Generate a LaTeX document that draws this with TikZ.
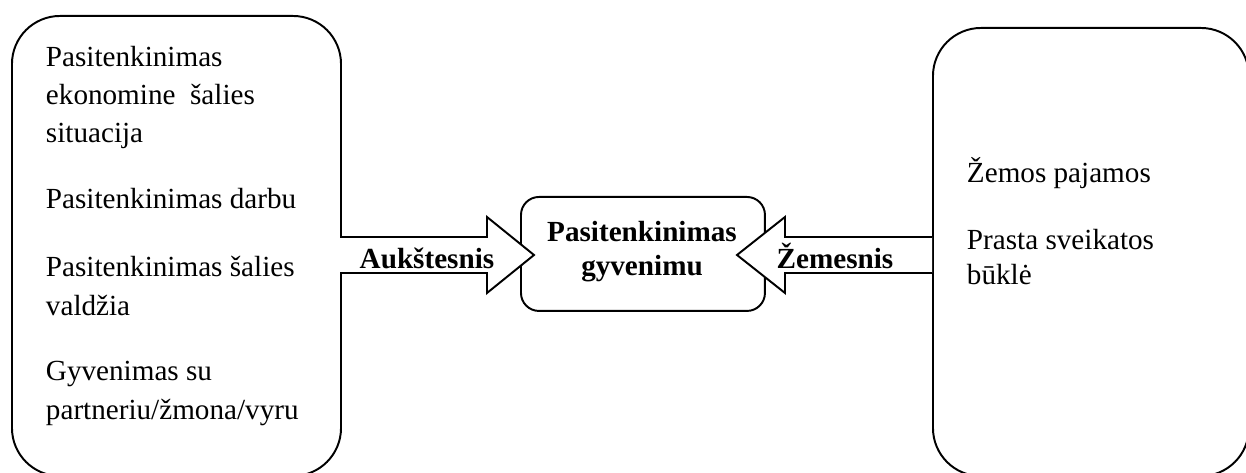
\documentclass[tikz,border=0pt]{standalone}
\usepackage{fontspec}
\setmainfont{Liberation Serif}
\begin{document}
\begin{tikzpicture}[x=0.4115pt,y=-0.4115pt,
  line width=0.8pt,
  bigbox/.style={draw, rounded corners=19.75pt, inner sep=0pt, anchor=north west},
  midbox/.style={draw, rounded corners=7.4pt, inner sep=0pt, anchor=north west,
    minimum width=100.4pt, minimum height=46.9pt},
  blockarrow/.style={draw, fill=white, line join=miter},
  leftpar/.style={anchor=base west, align=left, inner sep=0pt, font=\fontsize{12}{15.64}\selectfont},
  rightpar/.style={anchor=base west, align=left, inner sep=0pt, font=\fontsize{12}{14}\selectfont},
  arrowlabel/.style={anchor=base, inner sep=0pt, font=\fontsize{12}{14}\selectfont\bfseries}]
\useasboundingbox (0,0) rectangle (1246,473);
% boxes
\node (L) [bigbox, minimum width=135.4pt, minimum height=189.3pt] at (11,15) {};
\node (R) [bigbox, minimum width=130.0pt, minimum height=184.4pt] at (932,27) {};
\node (C) [midbox] at (520,196) {};
% left arrow
\coordinate (la1) at (340,237);
\coordinate (la2) at (487,237);
\coordinate (la3) at (487,217);
\coordinate (latip) at (534,255);
\coordinate (la5) at (487,293);
\coordinate (la6) at (487,273);
\coordinate (la7) at (340,273);
\draw[blockarrow] (la1) -- (la2) -- (la3) -- (latip) -- (la5) -- (la6) -- (la7);
% right arrow
\coordinate (ra1) at (932,237);
\coordinate (ra2) at (785,237);
\coordinate (ra3) at (785,217);
\coordinate (ratip) at (737,255);
\coordinate (ra5) at (785,293);
\coordinate (ra6) at (785,273);
\coordinate (ra7) at (932,273);
\draw[blockarrow] (ra1) -- (ra2) -- (ra3) -- (ratip) -- (ra5) -- (ra6) -- (ra7);
% left texts (anchored at the baseline of their last line)
\node (l1) [leftpar] at (45,143) {Pasitenkinimas\\ekonomine\ \ šalies\\situacija};
\node (l2) [leftpar] at (45,209) {Pasitenkinimas darbu};
\node (l3) [leftpar] at (45,315) {Pasitenkinimas šalies\\valdžia};
\node (l4) [leftpar] at (45,419) {Gyvenimas su\\partneriu/žmona/vyru};
% right texts
\node (r1) [rightpar] at (966,183) {Žemos pajamos};
\node (r2) [rightpar] at (966,284) {Prasta sveikatos\\būklė};
% center text
\node (c1) [anchor=base, align=center, inner sep=0pt, font=\fontsize{12}{13.6}\selectfont\bfseries] at (642,275) {Pasitenkinimas\\gyvenimu};
% arrow labels
\node (al) [arrowlabel] at (427,269) {Aukštesnis};
\node (ar) [arrowlabel] at (835,269) {Žemesnis};
\end{tikzpicture}
\end{document}
